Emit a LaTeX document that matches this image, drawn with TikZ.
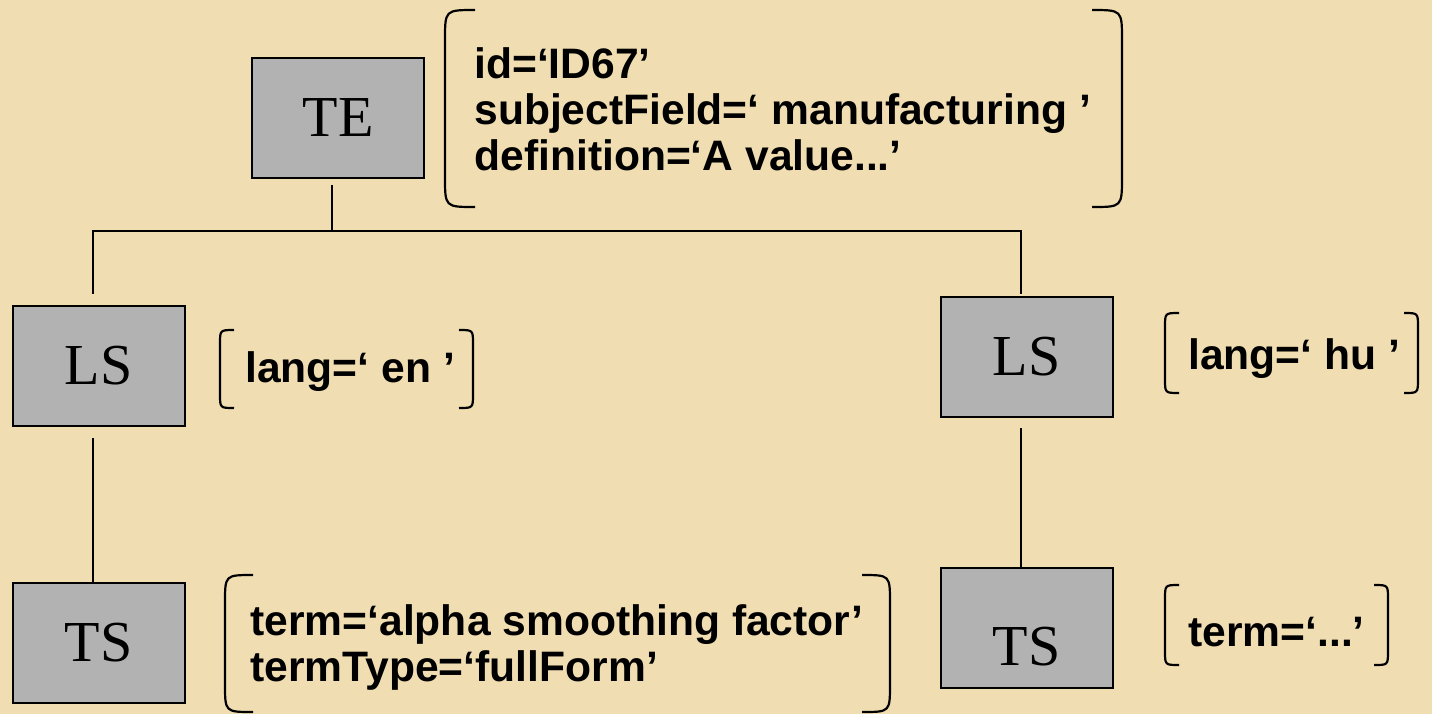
\documentclass[tikz,border=0pt]{standalone}
\usepackage{fontspec}
\setmainfont{Liberation Serif}
\newfontfamily\attrfont{Liberation Sans}
\usetikzlibrary{positioning}
\definecolor{parchment}{RGB}{240,222,178}
\definecolor{boxgray}{RGB}{178,178,178}
% round brackets: x left, x right, y top, y bottom, curl
\newcommand{\brackets}[5]{%
  \draw[brk] (#1+#5,#3) .. controls (#1,#3) .. (#1,#3+#5) -- (#1,#4-#5) .. controls (#1,#4) .. (#1+#5,#4);
  \draw[brk] (#2-#5,#3) .. controls (#2,#3) .. (#2,#3+#5) -- (#2,#4-#5) .. controls (#2,#4) .. (#2-#5,#4);}
\begin{document}
\begin{tikzpicture}[x=0.5pt,y=-0.5pt,
  box/.style={draw=black,line width=1pt,fill=boxgray,minimum width=86pt,minimum height=60pt,inner sep=0pt,font=\fontsize{29}{32}\selectfont},
  attr/.style={anchor=west,align=left,inner sep=0pt,font=\attrfont\bfseries\fontsize{21.3}{23}\selectfont},
  brk/.style={line width=1.1pt},
  link/.style={line width=1pt}]
  \fill[parchment] (0,0) rectangle (1432,714);

  \node[box] (te) at (338,118) {TE};
  \node[box] (lsEn) at (98.5,366) {LS};
  \node[box] (lsHu) at (1026.5,357) {LS};
  \node[box] (tsEn) at (98.5,643) {TS};
  \node[box,text height=38pt] (tsHu) at (1026.5,628) {TS};

  \coordinate (bus) at (0,231);
  \draw[link] ([xshift=-3pt,yshift=-3pt]te.south) -- ([xshift=-3pt]te.south |- bus);
  \draw[link] ([xshift=-3pt,yshift=5.5pt]lsEn.north) |- ([xshift=-3pt]lsHu.north |- bus) -- ([xshift=-3pt,yshift=1pt]lsHu.north);
  \draw[link] ([xshift=-3pt,yshift=-5.5pt]lsEn.south) -- ([xshift=-3pt]tsEn.north);
  \draw[link] ([xshift=-3pt,yshift=-5pt]lsHu.south) -- ([xshift=-3pt]tsHu.north);

  \node[attr] (teAttr) at (474,109) {id=‘ID67’\\subjectField=‘ manufacturing ’\\definition=‘A value...’};
  \node[attr] (lsEnAttr) at (245,372) {lang=‘ en ’};
  \node[attr] (lsHuAttr) at (1188,359) {lang=‘ hu ’};
  \node[attr] (tsEnAttr) at (250,647) {term=‘alpha smoothing factor’\\termType=‘fullForm’};
  \node[attr] (tsHuAttr) at (1188,632) {term=‘...’};

  \brackets{445}{1122}{10}{207}{30}
  \brackets{220}{473}{330}{408}{14}
  \brackets{1165}{1418}{313}{393}{14}
  \brackets{225}{890}{575}{712}{28}
  \brackets{1165}{1388}{585}{665}{14}
\end{tikzpicture}
\end{document}
